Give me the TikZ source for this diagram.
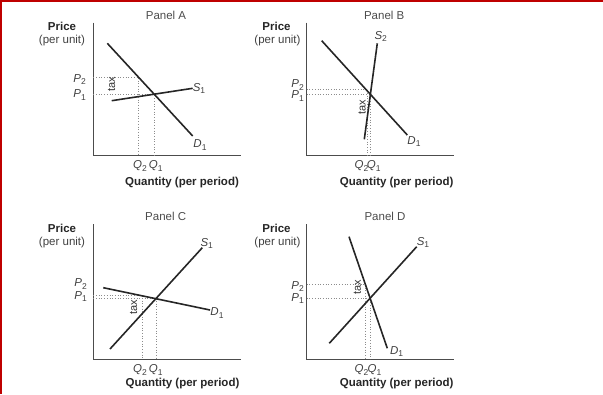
\documentclass[tikz,border=0pt]{standalone}
\usepackage{fontspec}
\setmainfont{Liberation Sans}
\newcommand{\sbx}[1]{\raisebox{-0.35ex}{\fontsize{8.5}{9}\selectfont #1}}
\begin{document}
\begin{tikzpicture}[x=1pt,y=-1pt,
  curve/.style={line width=1.6pt, black!85},
  axisline/.style={line width=0.9pt, black!70},
  guide/.style={dotted, line width=0.7pt, black!45},
  lbl/.style={font=\fontsize{11.5}{13}\selectfont, inner sep=0pt, text=black!75},
  ttl/.style={font=\fontsize{11.5}{13}\selectfont\bfseries, inner sep=0pt, text=black!85},
  pnl/.style={font=\fontsize{11.5}{13}\selectfont, inner sep=0pt, text=black!70},
  taxlbl/.style={font=\fontsize{11}{12}\selectfont, inner sep=0pt, rotate=90, text=black!80}]
\useasboundingbox (0,0) rectangle (603,394);
\fill[red!75!black] (0,0) rectangle (2,394);
\fill[red!75!black] (0,0) rectangle (603,1.5);

% ---------------- Panel A ----------------
\node[pnl] (aT) at (166,15) {Panel A};
\node[ttl] (aPr) at (62,26) {Price};
\node[lbl] (aPu) at (62,41) {(per unit)};
\coordinate (aY) at (93.3,22.7);
\coordinate (aO) at (93.3,155.7);
\coordinate (aX) at (240.7,155.7);
\draw[axisline] (aY) -- (aO) -- (aX);
\coordinate (aD0) at (107.3,43.3);
\coordinate (aD1) at (192.7,136);
\coordinate (aS0) at (111.7,100.7);
\coordinate (aS1) at (192.7,88.3);
\coordinate (aE) at (intersection of aD0--aD1 and aS0--aS1);
\coordinate (aP2a) at (93.3,77.3);
\coordinate (aP2b) at (138.6,77.3);
\coordinate (aQ2) at (138.6,155.7);
\draw[guide] (aP2a) -- (aP2b) -- (aQ2);
\draw[guide] (aO |- aE) -- (aE) -- (aE |- aO);
\draw[curve] (aD0) -- (aD1);
\draw[curve] (aS0) -- (aS1);
\node[lbl] (aSl) at (199,88.7) {\textit{S}\sbx{1}};
\node[lbl] (aDl) at (200,145) {\textit{D}\sbx{1}};
\node[lbl, anchor=east] (aP2) at (86,79.5) {\textit{P}\sbx{2}};
\node[lbl, anchor=east] (aP1) at (86,95) {\textit{P}\sbx{1}};
\node[taxlbl] (aTax) at (111.7,84) {tax};
\node[lbl] (aQ2l) at (140,166) {\textit{Q}\sbx{2}};
\node[lbl] (aQ1l) at (155.8,166) {\textit{Q}\sbx{1}};
\node[ttl] (aQu) at (182,182.3) {Quantity (per period)};

% ---------------- Panel B ----------------
\node[pnl] (bT) at (384.2,15) {Panel B};
\node[ttl] (bPr) at (276.5,26) {Price};
\node[lbl] (bPu) at (277.5,41) {(per unit)};
\coordinate (bY) at (306.7,22.7);
\coordinate (bO) at (306.7,155.7);
\coordinate (bX) at (454.3,155.7);
\draw[axisline] (bY) -- (bO) -- (bX);
\coordinate (bD0) at (321.7,40.7);
\coordinate (bD1) at (407.3,135);
\coordinate (bS0) at (364.3,139.3);
\coordinate (bS1) at (377.3,43.3);
\coordinate (bE) at (intersection of bD0--bD1 and bS0--bS1);
\coordinate (bP2a) at (306.7,89.3);
\coordinate (bP2b) at (367.8,89.3);
\coordinate (bQ2) at (367.8,155.7);
\draw[guide] (bP2a) -- (bP2b) -- (bQ2);
\draw[guide] (bO |- bE) -- (bE) -- (bE |- bO);
\draw[curve] (bD0) -- (bD1);
\draw[curve] (bS0) -- (bS1);
\node[lbl] (bSl) at (380.7,36.2) {\textit{S}\sbx{2}};
\node[lbl] (bDl) at (414,141.3) {\textit{D}\sbx{1}};
\node[lbl, anchor=east] (bP2) at (304,85) {\textit{P}\sbx{2}};
\node[lbl, anchor=east] (bP1) at (304,96) {\textit{P}\sbx{1}};
\node[taxlbl] (bTax) at (362,107) {tax};
\node[lbl] (bQ2l) at (361.5,166) {\textit{Q}\sbx{2}};
\node[lbl] (bQ1l) at (373.8,166) {\textit{Q}\sbx{1}};
\node[ttl] (bQu) at (396.7,182.3) {Quantity (per period)};

% ---------------- Panel C ----------------
\node[pnl] (cT) at (165.7,216.7) {Panel C};
\node[ttl] (cPr) at (62,228.3) {Price};
\node[lbl] (cPu) at (62,242.3) {(per unit)};
\coordinate (cY) at (93.3,224.3);
\coordinate (cO) at (93.3,359);
\coordinate (cX) at (240.7,359);
\draw[axisline] (cY) -- (cO) -- (cX);
\coordinate (cS0) at (110,349);
\coordinate (cS1) at (202.3,247.7);
\coordinate (cD0) at (103.3,287.7);
\coordinate (cD1) at (210,310);
\coordinate (cE) at (intersection of cD0--cD1 and cS0--cS1);
\coordinate (cP2a) at (93.3,295.5);
\coordinate (cP2b) at (142.3,295.5);
\coordinate (cQ2) at (142.3,359);
\draw[guide] (cP2a) -- (cP2b) -- (cQ2);
\draw[guide] (cO |- cE) -- (cE) -- (cE |- cO);
\draw[curve] (cD0) -- (cD1);
\draw[curve] (cS0) -- (cS1);
\node[lbl] (cSl) at (206.7,243.7) {\textit{S}\sbx{1}};
\node[lbl] (cDl) at (217,313) {\textit{D}\sbx{1}};
\node[lbl, anchor=east] (cP2) at (87,284) {\textit{P}\sbx{2}};
\node[lbl, anchor=east] (cP1) at (87,296.7) {\textit{P}\sbx{1}};
\node[taxlbl] (cTax) at (133.5,307.5) {tax};
\node[lbl] (cQ2l) at (140,370) {\textit{Q}\sbx{2}};
\node[lbl] (cQ1l) at (155.8,370) {\textit{Q}\sbx{1}};
\node[ttl] (cQu) at (182.5,384) {Quantity (per period)};

% ---------------- Panel D ----------------
\node[pnl] (dT) at (385,216.7) {Panel D};
\node[ttl] (dPr) at (276.5,228.3) {Price};
\node[lbl] (dPu) at (277.5,242.3) {(per unit)};
\coordinate (dY) at (306.7,224.3);
\coordinate (dO) at (306.7,359);
\coordinate (dX) at (454.3,359);
\draw[axisline] (dY) -- (dO) -- (dX);
\coordinate (dD0) at (349,236.7);
\coordinate (dD1) at (387.3,348.3);
\coordinate (dS0) at (329.3,343.3);
\coordinate (dS1) at (416.7,246.7);
\coordinate (dE) at (intersection of dD0--dD1 and dS0--dS1);
\coordinate (dP2a) at (306.7,284);
\coordinate (dP2b) at (365.2,284);
\coordinate (dQ2) at (365.2,359);
\draw[guide] (dP2a) -- (dP2b) -- (dQ2);
\draw[guide] (dO |- dE) -- (dE) -- (dE |- dO);
\draw[curve] (dD0) -- (dD1);
\draw[curve] (dS0) -- (dS1);
\node[lbl] (dSl) at (423,242.5) {\textit{S}\sbx{1}};
\node[lbl] (dDl) at (396.7,351.7) {\textit{D}\sbx{1}};
\node[lbl, anchor=east] (dP2) at (304,286.7) {\textit{P}\sbx{2}};
\node[lbl, anchor=east] (dP1) at (304,298.3) {\textit{P}\sbx{1}};
\node[taxlbl] (dTax) at (357.3,287.5) {tax};
\node[lbl] (dQ2l) at (361.5,370) {\textit{Q}\sbx{2}};
\node[lbl] (dQ1l) at (374.5,370) {\textit{Q}\sbx{1}};
\node[ttl] (dQu) at (396.7,384) {Quantity (per period)};
\end{tikzpicture}
\end{document}
